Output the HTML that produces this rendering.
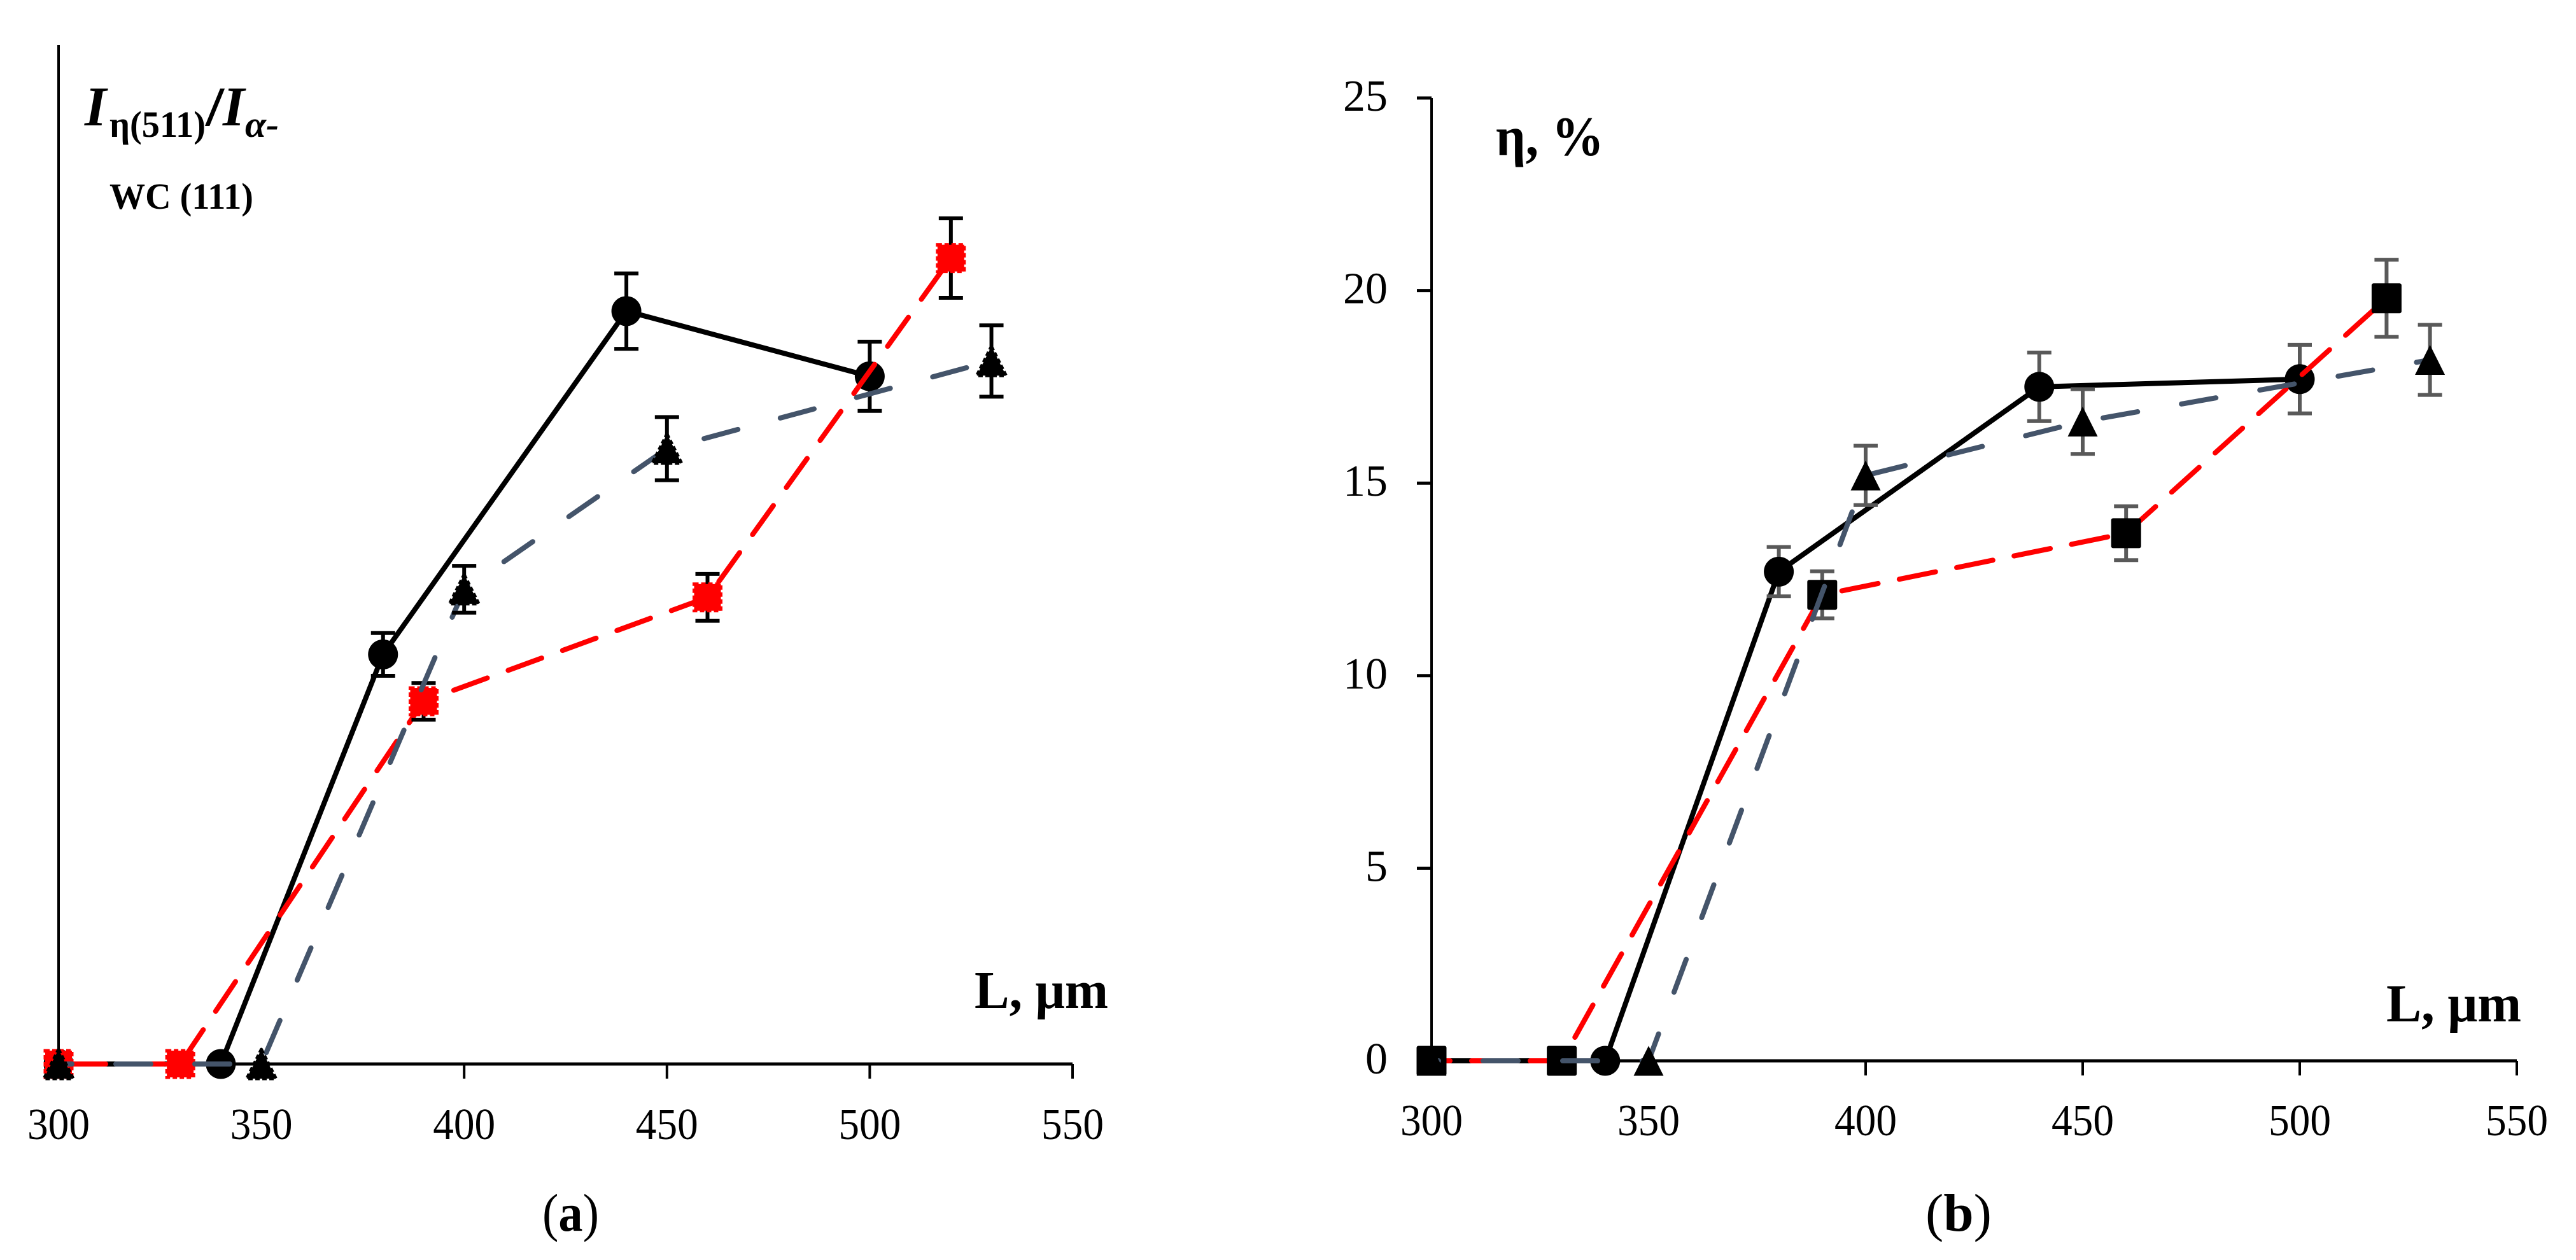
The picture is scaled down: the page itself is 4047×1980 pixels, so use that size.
<!DOCTYPE html>
<html>
<head>
<meta charset="utf-8">
<title>Chart recreation</title>
<style>
html,body{margin:0;padding:0;background:#fff;}
svg{display:block;}
text{font-family:"Liberation Serif","DejaVu Serif",serif;fill:#000;}
</style>
</head>
<body>
<svg id="figure" xmlns="http://www.w3.org/2000/svg" width="4047" height="1980" viewBox="0 0 4047 1980">
<rect x="0" y="0" width="4047" height="1980" fill="#fff"/>
<g id="panel-a"></g>
<g id="panel-b"></g>

<g font-weight="bold">
<text x="133" y="197" font-size="88" font-style="italic">I</text>
<text x="172" y="215" font-size="58" textLength="151" lengthAdjust="spacingAndGlyphs">η(511)</text>
<text x="323" y="197" font-size="88" textLength="29" lengthAdjust="spacingAndGlyphs">/</text>
<text x="350" y="197" font-size="88" font-style="italic">I</text>
<text x="385" y="215" font-size="58" font-style="italic" textLength="53" lengthAdjust="spacingAndGlyphs">α-</text>
<text x="172" y="328" font-size="58" textLength="226" lengthAdjust="spacingAndGlyphs">WC (111)</text>
</g>
<text x="1531" y="1584" font-size="84" font-weight="bold" textLength="210" lengthAdjust="spacingAndGlyphs">L, μm</text>
<text x="852" y="1934" font-size="84" textLength="89" lengthAdjust="spacingAndGlyphs">(<tspan font-weight="bold">a</tspan>)</text>

<text x="2350" y="244" font-size="88" font-weight="bold" textLength="170" lengthAdjust="spacingAndGlyphs">η, %</text>
<text x="3749" y="1605" font-size="84" font-weight="bold" textLength="212" lengthAdjust="spacingAndGlyphs">L, μm</text>
<text x="3025" y="1934" font-size="84" textLength="104" lengthAdjust="spacingAndGlyphs">(<tspan font-weight="bold">b</tspan>)</text>
</svg>

<script>
// Shared x-axis ticks
const xTicks = [300, 350, 400, 450, 500, 550];

// Panel (a): intensity ratio (relative units, axis has no printed scale)
const aCircleL = [300, 340, 380, 440, 500];
const aCircleV = [0, 0, 40.2, 73.9, 67.5];
const aCircleE = [0, 0, 2.1, 3.7, 3.4];
const aSquareL = [300, 330, 390, 460, 520];
const aSquareV = [0, 0, 35.6, 45.8, 79.1];
const aSquareE = [0, 0, 1.8, 2.3, 3.9];
const aTriangleL = [300, 350, 400, 450, 530];
const aTriangleV = [0, 0, 46.6, 60.4, 69.0];
const aTriangleE = [0, 0, 2.3, 3.1, 3.5];

// Panel (b): eta, %
const bYTicks = [0, 5, 10, 15, 20, 25];
const bCircleL = [300, 340, 380, 440, 500];
const bCircleV = [0, 0, 12.7, 17.5, 17.7];
const bCircleE = [0, 0, 0.64, 0.89, 0.89];
const bSquareL = [300, 330, 390, 460, 520];
const bSquareV = [0, 0, 12.1, 13.7, 19.8];
const bSquareE = [0, 0, 0.61, 0.7, 1.0];
const bTriangleL = [300, 350, 400, 450, 530];
const bTriangleV = [0, 0, 15.2, 16.6, 18.2];
const bTriangleE = [0, 0, 0.77, 0.84, 0.91];

const NS = 'http://www.w3.org/2000/svg';
function mk(parent, tag, attrs) {
  const e = document.createElementNS(NS, tag);
  for (const k in attrs) e.setAttribute(k, attrs[k]);
  parent.appendChild(e);
  return e;
}

// Axis functions
const ax = v => 92 + (v - 300) * (1593 / 250);
const ay = v => 1672 - v * 16.01;
const bx = v => 2249 + (v - 300) * (1705 / 250);
const by = v => 1667 - v * 60.52;

function drawAxes(g, px, baseY, topY, labelY, tickColor, prefix) {
  const xl = mk(g, 'line', {x1: px(xTicks[0]), x2: px(xTicks[xTicks.length - 1]), y1: baseY, y2: baseY, stroke: '#000', 'stroke-width': 5});
  
  
  const yl = mk(g, 'line', {x1: px(300), x2: px(300), y1: topY, y2: baseY, stroke: '#000', 'stroke-width': 4});
  
  
  xTicks.forEach(t => {
    const tk = mk(g, 'line', {x1: px(t), x2: px(t), y1: baseY, y2: baseY + 23, stroke: tickColor, 'stroke-width': 4});
    
    
    const lb = mk(g, 'text', {x: px(t), y: labelY, 'font-size': 70, 'text-anchor': 'middle', textLength: 98, lengthAdjust: 'spacingAndGlyphs'});
    lb.textContent = t;
    
    
  });
}

function drawSeries(g, prefix, name, L, V, E, px, py, opt) {
  const pts = L.map((l, i) => px(l) + ',' + py(V[i])).join(' ');
  const lineAttrs = {points: pts, fill: 'none', stroke: opt.color, 'stroke-width': 8, 'stroke-linecap': 'round', 'stroke-linejoin': 'round'};
  if (opt.dash) { lineAttrs['stroke-dasharray'] = opt.dash; lineAttrs['stroke-dashoffset'] = opt.offset; }
  const line = mk(g, 'polyline', lineAttrs);
  
  

  L.forEach((l, i) => {
    if (!E[i]) return;
    const cx = px(l), top = py(V[i] + E[i]), bot = py(V[i] - E[i]);
    const eb = mk(g, 'path', {d: 'M' + cx + ' ' + top + 'V' + bot + 'M' + (cx - 19) + ' ' + top + 'H' + (cx + 19) + 'M' + (cx - 19) + ' ' + bot + 'H' + (cx + 19), fill: 'none', stroke: opt.errColor, 'stroke-width': opt.errWidth});
    
    
  });

  L.forEach((l, i) => {
    const cx = px(l), cy = py(V[i]);
    let m;
    if (opt.shape === 'circle') {
      m = mk(g, 'circle', {cx: cx, cy: cy, r: 23.5, fill: '#000'});
    } else if (opt.shape === 'square') {
      const s = opt.rough ? 42 : 47;
      m = mk(g, 'rect', {x: cx - s / 2, y: cy - s / 2, width: s, height: s, rx: opt.rough ? 0 : 3, fill: opt.fill});
    } else {
      const h = opt.rough ? 23 : 23.5;
      m = mk(g, 'polygon', {points: cx + ',' + (cy - h) + ' ' + (cx + h) + ',' + (cy + h) + ' ' + (cx - h) + ',' + (cy + h), fill: opt.fill, 'stroke-linejoin': 'round'});
    }
    if (opt.rough) {
      m.setAttribute('stroke', opt.fill);
      m.setAttribute('stroke-width', 5);
      m.setAttribute('stroke-dasharray', '7 4');
    }
    
    
  });
}

const gA = document.getElementById('panel-a');
const gB = document.getElementById('panel-b');

drawAxes(gA, ax, ay(0), 71, 1790, '#000', 'panel-a');
drawSeries(gA, 'panel-a', 'circle-series', aCircleL, aCircleV, aCircleE, ax, ay, {color: '#000', errColor: '#000', errWidth: 6, shape: 'circle'});
drawSeries(gA, 'panel-a', 'square-series', aSquareL, aSquareV, aSquareE, ax, ay, {color: '#f00', errColor: '#000', errWidth: 6, shape: 'square', fill: '#f00', rough: true, dash: '56 35', offset: 73});
drawSeries(gA, 'panel-a', 'triangle-series', aTriangleL, aTriangleV, aTriangleE, ax, ay, {color: '#44546A', errColor: '#000', errWidth: 6, shape: 'triangle', fill: '#000', rough: true, dash: '55 69', offset: 34});

drawAxes(gB, bx, by(0), by(25), 1784, '#000', 'panel-b');
bYTicks.forEach(t => {
  const tk = mk(gB, 'line', {x1: 2226, x2: bx(300), y1: by(t), y2: by(t), stroke: '#000', 'stroke-width': 5});
  
  
  const lb = mk(gB, 'text', {x: 2180, y: by(t) + 20, 'font-size': 70, 'text-anchor': 'end'});
  lb.textContent = t;
  
  
});
drawSeries(gB, 'panel-b', 'circle-series', bCircleL, bCircleV, bCircleE, bx, by, {color: '#000', errColor: '#595959', errWidth: 6, shape: 'circle'});
drawSeries(gB, 'panel-b', 'square-series', bSquareL, bSquareV, bSquareE, bx, by, {color: '#f00', errColor: '#595959', errWidth: 6, shape: 'square', fill: '#000', dash: '58 34', offset: 29});
drawSeries(gB, 'panel-b', 'triangle-series', bTriangleL, bTriangleV, bTriangleE, bx, by, {color: '#44546A', errColor: '#595959', errWidth: 6, shape: 'triangle', fill: '#000', dash: '55 70', offset: 44});
</script>
</body>
</html>
